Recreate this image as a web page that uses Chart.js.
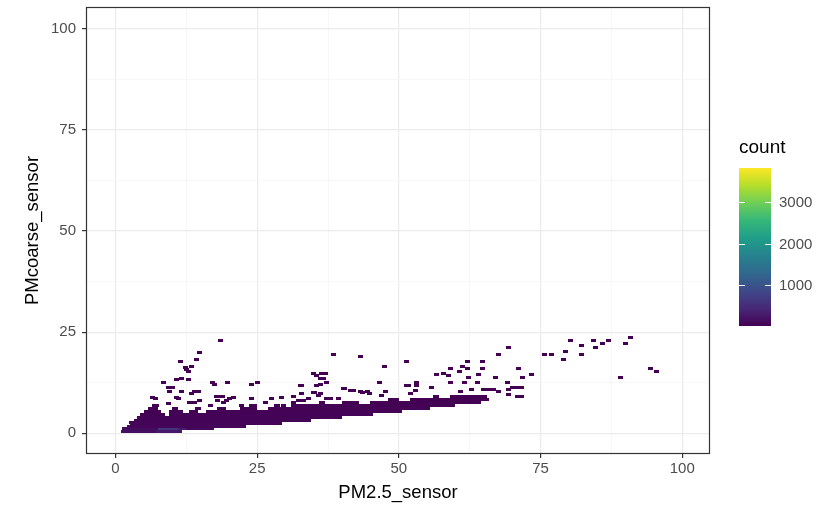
<!DOCTYPE html>
<html>
<head>
<meta charset="utf-8">
<script src="https://cdn.jsdelivr.net/npm/chart.js@4.4.1/dist/chart.umd.min.js"></script>
<style>
  html, body { margin: 0; padding: 0; background: #fff; }
  #wrap { width: 823px; height: 507px; position: relative; }
</style>
</head>
<body>
<div id="wrap"><canvas id="binChart"></canvas></div>
<script>
// Dense band: each entry is a run of neighbouring tiles in one row with the same count
const runY = [
  0.36, 0.36,
  1.08, 1.08, 1.08, 1.08,
  1.80, 2.52, 3.24,
  3.96,
  4.68, 4.68,
  5.40, 5.40, 5.40, 5.40,
  6.12, 6.12, 6.12, 6.12, 6.12, 6.12,
  6.84, 6.84, 6.84, 6.84,
  7.56, 7.56, 7.56,
  8.28, 8.28,
  9.00, 9.00
];
const runFrom = [
  1.0, 7.2,
  1.2, 7.5, 11.0, 12.5,
  2.0, 2.6, 3.2,
  3.8,
  4.4, 9.5,
  5.0, 9.5, 13.0, 16.0,
  5.8, 10.0, 14.0, 18.0, 22.0, 27.0,
  6.5, 24.0, 28.0, 31.0,
  36.0, 40.0, 45.0,
  48.0, 52.0,
  56.0, 59.0
];
const runTo = [
  7.2, 11.8,
  7.5, 11.0, 12.5, 17.5,
  23.0, 29.5, 34.5,
  40.0,
  8.8, 45.5,
  8.0, 12.0, 14.5, 50.5,
  7.5, 11.0, 15.0, 19.5, 25.0, 55.5,
  7.3, 25.0, 29.0, 60.0,
  37.0, 43.0, 64.5,
  50.0, 66.0,
  57.0, 65.5
];
const runCount = [
  150, 250,
  120, 600, 300, 90,
  60, 45, 35,
  30,
  15, 25,
  6, 8, 6, 20,
  3, 3, 3, 4, 5, 18,
  2, 3, 3, 14,
  2, 6, 10,
  3, 6,
  2, 3
];

// Scattered single tiles above and right of the band
const tileX = [
  18.5, 14.8, 11.4, 14.3, 12.3, 12.6, 12.9, 13.4, 10.8, 11.7, 12.8, 8.4, 17.1, 17.4, 19.7, 24.0, 25.0,
  9.3, 10.1, 9.6, 11.7, 13.9, 14.7, 13.4, 7.0, 10.8, 13.1, 13.9, 17.9, 18.0, 19.6, 20.8, 24.0, 27.6,
  29.3, 31.4, 32.9, 34.0, 34.9, 36.1, 37.3, 32.9, 34.9, 36.4, 36.1, 36.1, 37.3, 2.8, 6.6, 7.3, 9.3,
  11.1, 14.9, 16.7, 24.0, 26.4, 29.6, 31.4, 32.3, 33.2, 22.3, 19.0, 32.6, 35.5, 18.1, 18.9, 20.2,
  38.5, 43.3, 51.3, 47.4, 46.5, 37.0, 35.5, 36.7, 35.2, 35.8, 40.2, 42.0, 43.5, 47.0, 44.9, 51.4,
  52.0, 52.9, 37.9, 39.3, 53.2, 53.2, 51.7, 47.6, 44.4, 43.2, 41.4, 40.4, 55.7, 60.8, 62.9, 65.0,
  65.8, 65.1, 66.7, 67.6, 69.4, 70.9, 71.7, 69.4, 70.1, 70.9, 71.7, 69.1, 59.1, 61.6, 63.8, 62.3,
  67.0, 71.9, 73.4, 71.1, 64.1, 64.8, 64.8, 62.1, 62.1, 61.3, 60.7, 59.1, 58.7, 57.8, 56.7, 67.6, 69.4,
  75.7, 77.0, 79.4, 79.1, 80.3, 82.3, 82.3, 84.4, 84.7, 86.0, 87.0, 90.0, 90.8, 89.1, 94.4, 95.4
];
const tileY = [
  22.9, 20.0, 17.8, 18.2, 16.3, 15.8, 15.2, 16.6, 13.2, 13.6, 13.2, 12.6, 12.6, 12.0, 12.6, 12.0, 12.6,
  11.3, 11.3, 10.3, 10.3, 10.3, 10.3, 9.8, 8.7, 8.8, 7.7, 7.7, 9.1, 8.1, 8.1, 8.9, 8.5, 8.5,
  8.9, 9.1, 9.8, 8.5, 10.2, 9.9, 8.5, 11.8, 14.9, 14.9, 13.5, 12.1, 12.6, 2.8, 8.9, 6.9, 7.3,
  8.5, 8.1, 6.9, 6.9, 7.7, 6.9, 7.7, 8.1, 8.1, 6.9, 7.7, 11.8, 11.8, 9.1, 9.1, 8.5,
  19.5, 19.0, 17.7, 16.6, 12.6, 14.9, 14.3, 13.5, 10.2, 9.4, 11.0, 10.6, 10.2, 9.4, 9.8, 11.8,
  9.8, 10.6, 8.5, 8.5, 12.6, 11.8, 11.8, 10.3, 10.3, 10.3, 10.6, 11.0, 11.3, 10.3, 10.8, 10.8,
  10.8, 9.1, 10.8, 10.3, 9.6, 9.1, 9.1, 10.8, 11.3, 11.3, 11.3, 12.6, 12.6, 12.6, 12.6, 13.7,
  13.7, 13.7, 14.5, 16.1, 14.5, 15.9, 17.7, 15.9, 17.7, 16.6, 15.3, 15.9, 14.3, 14.9, 14.5, 19.5, 21.3,
  19.5, 19.5, 20.2, 18.2, 22.9, 21.8, 19.5, 22.9, 21.3, 22.3, 22.9, 22.3, 23.6, 13.7, 16.1, 15.3
];
const tileCount = tileX.map(() => 1);

// Colour scale and axis breaks
const countMin = 1;
const countMax = 3830;
const countBreaks = [1000, 2000, 3000];
const majorTicks = [0, 25, 50, 75, 100];
const minorTicks = [12.5, 37.5, 62.5, 87.5];

// tile size in data units
const binW = 0.8;
const binH = 0.72;

const viridis = ['#440154', '#482878', '#3e4989', '#31688e', '#26828e',
                 '#1f9e89', '#35b779', '#6ece58', '#b5de2b', '#fde725'];

function hexRgb(h) {
    return [parseInt(h.slice(1, 3), 16), parseInt(h.slice(3, 5), 16), parseInt(h.slice(5, 7), 16)];
}

function countColor(c) {
    let t = (c - countMin) / (countMax - countMin);
    t = Math.min(1, Math.max(0, t)) * (viridis.length - 1);
    const i = Math.min(viridis.length - 2, Math.floor(t));
    const f = t - i;
    const a = hexRgb(viridis[i]), b = hexRgb(viridis[i + 1]);
    const m = a.map((v, k) => Math.round(v + (b[k] - v) * f));
    return `rgb(${m[0]},${m[1]},${m[2]})`;
}

const tileCache = {};
function tileImage(wPx, hPx, color) {
    const w = Math.max(1, Math.round(wPx));
    const h = Math.max(1, Math.round(hPx));
    const key = w + 'x' + h + color;
    if (!tileCache[key]) {
        const c = document.createElement('canvas');
        c.width = w;
        c.height = h;
        const g = c.getContext('2d');
        g.fillStyle = color;
        g.fillRect(0, 0, w, h);
        tileCache[key] = c;
    }
    return tileCache[key];
}

const runPoints = runY.map((y, i) => ({
    x: (runFrom[i] + runTo[i]) / 2, y: y, span: runTo[i] - runFrom[i], count: runCount[i]
}));
const tilePoints = tileX.map((x, i) => ({ x: x, y: tileY[i], span: binW, count: tileCount[i] }));

function tileStyle(ctx) {
    const p = ctx.raw;
    if (!p) return 'rect';
    const sx = ctx.chart.scales.x, sy = ctx.chart.scales.y;
    const w = Math.abs(sx.getPixelForValue(p.x + p.span / 2) - sx.getPixelForValue(p.x - p.span / 2));
    const h = Math.abs(sy.getPixelForValue(0) - sy.getPixelForValue(binH));
    return tileImage(w, h, countColor(p.count));
}

const gridTicks = majorTicks.concat(minorTicks).sort((a, b) => a - b);
const isMajor = v => majorTicks.includes(v);

// Panel border drawn over the tiles
const panelFrame = {
    id: 'panelFrame',
    afterDatasetsDraw(chart) {
        const { ctx, chartArea: a } = chart;
        ctx.save();
        ctx.strokeStyle = '#333333';
        ctx.lineWidth = 1.2;
        ctx.strokeRect(a.left + 0.5, a.top + 0.5, a.right - a.left - 1, a.bottom - a.top - 1);
        ctx.restore();
    }
};

// Colour bar legend on the right
const colorBar = {
    id: 'colorBar',
    afterDraw(chart) {
        const ctx = chart.ctx;
        const left = 739, right = 771, top = 168, bottom = 326;
        const grad = ctx.createLinearGradient(0, bottom, 0, top);
        viridis.forEach((c, i) => grad.addColorStop(i / (viridis.length - 1), c));
        ctx.save();
        ctx.fillStyle = grad;
        ctx.fillRect(left, top, right - left, bottom - top);

        ctx.fillStyle = '#000000';
        ctx.font = "19px 'Liberation Sans', Arial, sans-serif";
        ctx.textAlign = 'left';
        ctx.textBaseline = 'middle';
        ctx.fillText('count', 739, 148);

        ctx.font = "15px 'Liberation Sans', Arial, sans-serif";
        ctx.fillStyle = '#4d4d4d';
        ctx.strokeStyle = '#ffffff';
        ctx.lineWidth = 1;
        countBreaks.forEach(v => {
            const y = Math.round(bottom - (v - countMin) / (countMax - countMin) * (bottom - top)) + 0.5;
            ctx.beginPath();
            ctx.moveTo(left, y); ctx.lineTo(left + 6, y);
            ctx.moveTo(right - 6, y); ctx.lineTo(right, y);
            ctx.stroke();
            ctx.fillText(String(v), 779, y);
        });
        ctx.restore();
    }
};

Chart.defaults.font.family = "'Liberation Sans', Arial, sans-serif";

const axisCommon = {
    type: 'linear',
    afterBuildTicks: s => { s.ticks = gridTicks.map(v => ({ value: v })); },
    grid: {
        color: c => isMajor(c.tick.value) ? '#ebebeb' : '#f5f5f5',
        lineWidth: c => isMajor(c.tick.value) ? 1.2 : 0.8,
        tickColor: c => isMajor(c.tick.value) ? '#333333' : 'rgba(0,0,0,0)',
        tickLength: 4,
        drawTicks: true
    },
    border: { display: false },
    ticks: {
        color: '#4d4d4d',
        font: { size: 15 },
        autoSkip: false,
        maxRotation: 0,
        callback: v => isMajor(v) ? String(v) : ''
    }
};

new Chart(document.getElementById('binChart'), {
    type: 'scatter',
    data: {
        datasets: [
            { data: runPoints, pointStyle: tileStyle, pointRadius: 1, pointHoverRadius: 1 },
            { data: tilePoints, pointStyle: tileStyle, pointRadius: 1, pointHoverRadius: 1 }
        ]
    },
    options: {
        responsive: true,
        maintainAspectRatio: false,
        animation: false,
        events: [],
        layout: { padding: { left: 0, right: 113, top: 7, bottom: 0 } },
        plugins: { legend: { display: false }, tooltip: { enabled: false } },
        scales: {
            x: {
                ...axisCommon,
                min: -5.2, max: 104.9,
                ticks: { ...axisCommon.ticks, padding: 2 },
                title: { display: true, text: 'PM2.5_sensor', color: '#000000', font: { size: 18.5 }, padding: { top: 0, bottom: 3 } },
                afterFit: s => { s.height = 53; s.paddingLeft = 0; s.paddingRight = 0; }
            },
            y: {
                ...axisCommon,
                min: -5.1, max: 105.3,
                ticks: { ...axisCommon.ticks, padding: 6 },
                title: { display: true, text: 'PMcoarse_sensor', color: '#000000', font: { size: 18.5 }, padding: { top: 22, bottom: 0 } },
                afterFit: s => { s.width = 86; s.paddingTop = 0; s.paddingBottom = 0; }
            }
        }
    },
    plugins: [panelFrame, colorBar]
});
</script>
</body>
</html>
